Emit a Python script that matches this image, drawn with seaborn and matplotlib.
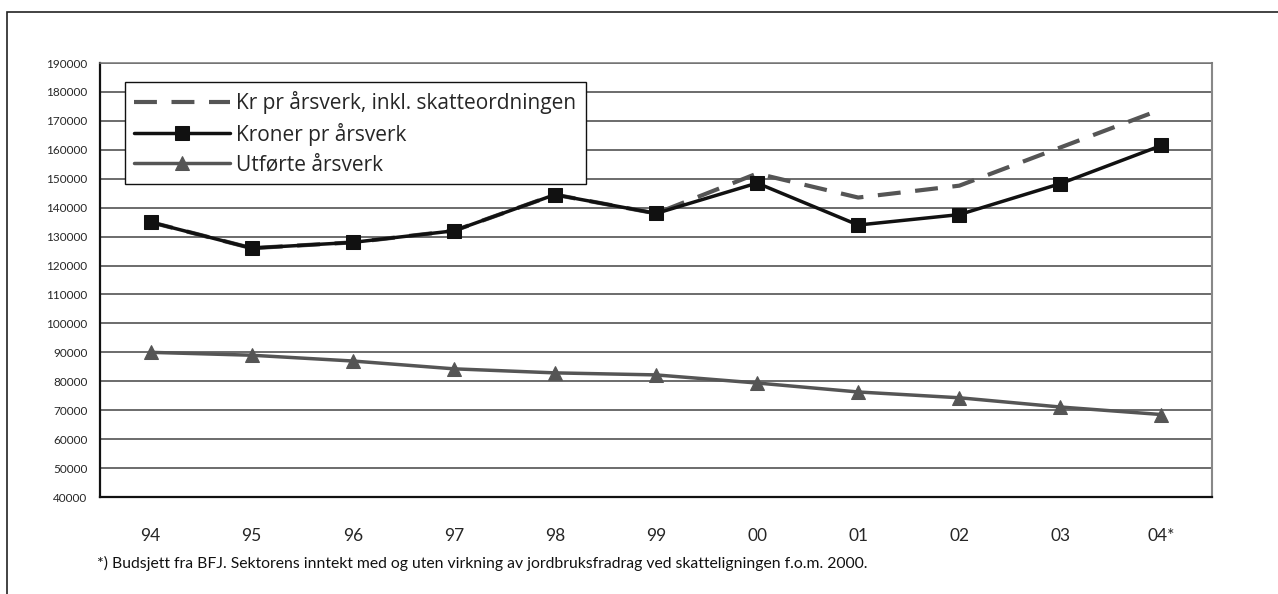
import numpy as np
import pandas as pd
import matplotlib
matplotlib.use("Agg")
import matplotlib.pyplot as plt
import seaborn as sns

# data
years = ["94", "95", "96", "97", "98", "99", "00", "01", "02", "03", "04*"]
kr_inkl = [135000, 126000, 128000, 132000, 144500, 138000, 151800, 143500, 147600, 160800, 174000]
kroner = [135000, 126000, 128000, 132000, 144500, 138000, 148500, 134000, 137600, 148300, 161500]
aarsverk = [90000, 89000, 87000, 84300, 82900, 82200, 79400, 76300, 74300, 71100, 68500]

df = pd.DataFrame({"aar": years, "kr_inkl": kr_inkl, "kroner": kroner, "aarsverk": aarsverk})

sns.set_style("white")
plt.rcParams["font.family"] = ["Lato", "DejaVu Sans"]

fig = plt.figure(figsize=(12.78, 5.94), dpi=100)
ax = fig.add_axes([100/1278, 1-497/594, 1112/1278, 434/594])

# ytre ramme
fig.patches.append(plt.Rectangle((7/1278, -0.1), 1.2, 1-12/594+0.1, transform=fig.transFigure,
                                 fill=False, edgecolor="#222222", linewidth=1.2, zorder=0))

for v in range(50000, 200000, 10000):
    ax.axhline(v, color="#444444", linewidth=1.1, zorder=0)

sns.lineplot(data=df, x="aar", y="kr_inkl", ax=ax, color="#555555", linewidth=3,
             dashes=False, linestyle=(0, (5.5, 3.5)), label="Kr pr årsverk, inkl. skatteordningen")
sns.lineplot(data=df, x="aar", y="kroner", ax=ax, color="#111111", linewidth=2.5,
             marker="s", markersize=10, markeredgecolor="#111111", label="Kroner pr årsverk")
sns.lineplot(data=df, x="aar", y="aarsverk", ax=ax, color="#555555", linewidth=2.5,
             marker="^", markersize=10, markeredgecolor="#555555", label="Utførte årsverk")

ax.set_xlim(-0.5, 10.5)
ax.set_ylim(40000, 190000)
ax.set_yticks(range(40000, 190001, 10000))
ax.set_yticklabels([str(v) for v in range(40000, 190001, 10000)], fontsize=8.5)
ax.set_xticks(range(len(years)))
ax.set_xticklabels(years, fontsize=12.5)
ax.set_xticks(np.arange(-0.5, 10.6, 1), minor=True)
ax.tick_params(axis="x", which="major", length=0, pad=22)
ax.tick_params(axis="x", which="minor", length=7, width=1.3, direction="out", color="#111111")
ax.tick_params(axis="y", length=5, width=1.3, direction="out", color="#111111", pad=4)
ax.set_xlabel("")
ax.set_ylabel("")

for s in ["left", "bottom"]:
    ax.spines[s].set_color("#111111")
    ax.spines[s].set_linewidth(1.6)
ax.spines["top"].set_color("#777777")
ax.spines["top"].set_linewidth(1.1)
ax.spines["right"].set_color("#888888")
ax.spines["right"].set_linewidth(1.5)

leg = ax.legend(loc="upper left", bbox_to_anchor=(25/1112, 1-19/434),
                prop={"family": ["Open Sans", "DejaVu Sans"], "size": 15},
                frameon=True, fancybox=False, framealpha=1, edgecolor="#111111",
                handlelength=4.6, handletextpad=0.3, borderpad=0.45, labelspacing=0.4,
                borderaxespad=0)
leg.get_frame().set_linewidth(1.0)

fig.text(97/1278, 1-563/594,
         "*) Budsjett fra BFJ. Sektorens inntekt med og uten virkning av jordbruksfradrag ved skatteligningen f.o.m. 2000.",
         fontsize=11.3, va="center", ha="left", color="#111111", family=["Lato", "DejaVu Sans"])

fig.savefig("out.png", dpi=100)
